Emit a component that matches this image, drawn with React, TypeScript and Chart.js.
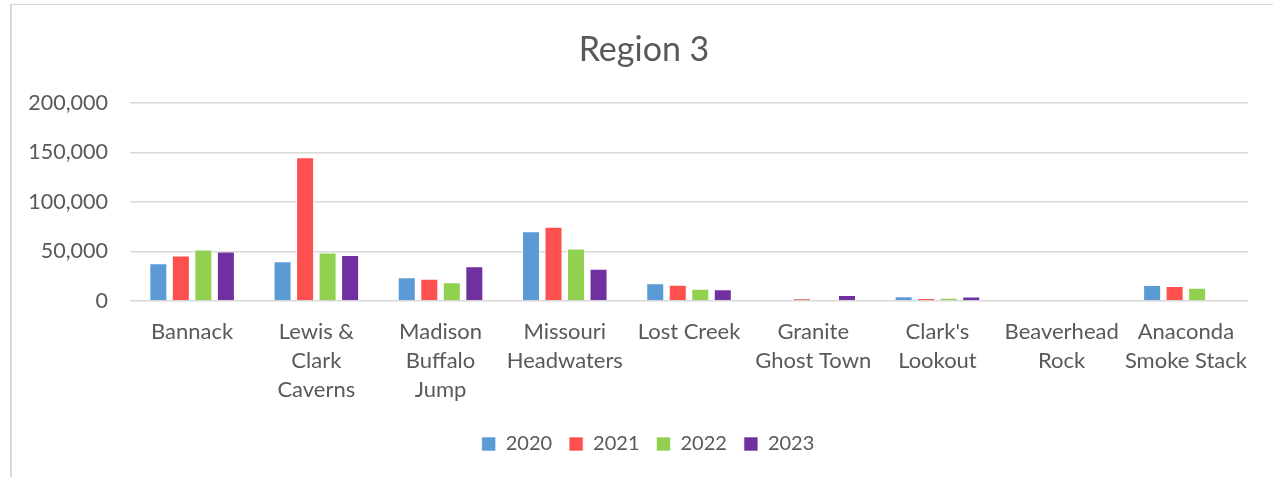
import React, { useEffect, useRef } from "react";
import { Chart, registerables } from "chart.js";

Chart.register(...registerables);

const categories: string[][] = [
  ["Bannack"],
  ["Lewis &", "Clark", "Caverns"],
  ["Madison", "Buffalo", "Jump"],
  ["Missouri", "Headwaters"],
  ["Lost Creek"],
  ["Granite", "Ghost Town"],
  ["Clark's", "Lookout"],
  ["Beaverhead", "Rock"],
  ["Anaconda", "Smoke Stack"],
];

const seriesLabels = ["2020", "2021", "2022", "2023"];
const values2020 = [38000, 40000, 24000, 70500, 18000, 0, 4700, 0, 16200];
const values2021 = [46000, 145000, 22500, 75000, 16300, 2700, 3000, 0, 15200];
const values2022 = [52000, 49000, 18800, 53000, 12300, 0, 3400, 200, 13300];
const values2023 = [50000, 46500, 35000, 32500, 11900, 6000, 4500, 900, 0];
const seriesColors = ["#5B9BD5", "#FF5050", "#92D050", "#7030A0"];
const yTicks = [0, 50000, 100000, 150000, 200000];

const TEXT = "#595959";
const FONT = "Lato, 'Open Sans', sans-serif";

const shiftPlugin = {
  id: "shiftBlocks",
  afterLayout(chart: any) {
    const t = chart.titleBlock;
    if (t) {
      t.left += 10;
      t.right += 10;
    }
    const l = chart.legend;
    if (l) {
      l.left += 14;
      l.right += 14;
    }
  },
};

export default function App() {
  const ref = useRef<HTMLCanvasElement | null>(null);

  useEffect(() => {
    if (!ref.current) return;
    const all = [values2020, values2021, values2022, values2023];
    const chart = new Chart(ref.current, {
      type: "bar",
      data: {
        labels: categories,
        datasets: all.map((vals, i) => ({
          label: seriesLabels[i],
          data: vals,
          backgroundColor: seriesColors[i],
          borderColor: "rgba(255,255,255,0.6)",
          borderWidth: 1,
          barPercentage: 0.8,
          categoryPercentage: 0.725,
        })),
      },
      plugins: [shiftPlugin],
      options: {
        responsive: false,
        animation: false,
        layout: { padding: { left: 20, right: 25, top: 20, bottom: 13 } },
        plugins: {
          tooltip: { enabled: false },
          title: {
            display: true,
            text: "Region 3",
            color: TEXT,
            font: { family: FONT, size: 34, weight: "normal", lineHeight: 1.2 },
            padding: { top: 10, bottom: 32 },
          },
          legend: {
            position: "bottom",
            labels: {
              color: TEXT,
              font: { family: FONT, size: 20 },
              boxWidth: 14,
              boxHeight: 14,
              padding: 17,
            },
          },
        },
        scales: {
          x: {
            afterFit: (axis: any) => {
              axis.height = 116;
            },
            grid: { display: false },
            border: { display: false },
            ticks: {
              color: TEXT,
              font: { family: FONT, size: 22, lineHeight: 1.32 },
              maxRotation: 0,
              autoSkip: false,
              padding: 8,
            },
          },
          y: {
            min: 0,
            max: 200000,
            afterFit: (axis: any) => {
              axis.width = 110;
            },
            afterBuildTicks: (axis: any) => {
              axis.ticks = yTicks.map((v) => ({ value: v }));
            },
            grid: { color: "#D9D9D9", lineWidth: 1.5, drawTicks: false },
            border: { display: false },
            ticks: {
              color: TEXT,
              font: { family: FONT, size: 21.5 },
              padding: 22,
              callback: (v: any) => Number(v).toLocaleString("en-US"),
            },
          },
        },
      },
    });
    return () => chart.destroy();
  }, []);

  return (
    <div
      style={{
        position: "fixed",
        left: 0,
        top: 0,
        width: 1273,
        height: 477,
        background: "#fff",
        overflow: "hidden",
      }}
    >
      <div
        style={{
          position: "absolute",
          left: 10,
          top: 4,
          width: 1300,
          height: 500,
          borderLeft: "2px solid #D9D9D9",
          borderTop: "1px solid #D9D9D9",
        }}
      />
      <canvas
        ref={ref}
        width={1273}
        height={477}
        style={{ position: "absolute", left: 0, top: 0 }}
      />
    </div>
  );
}
